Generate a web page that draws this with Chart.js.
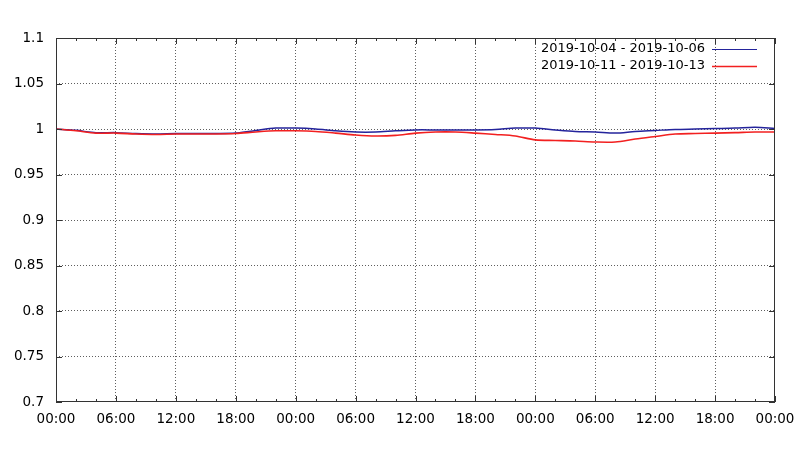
<!DOCTYPE html>
<html>
<head>
<meta charset="utf-8">
<script src="https://cdn.jsdelivr.net/npm/chart.js@4"></script>
<style>
  html, body { margin: 0; padding: 0; background: #fff; }
  #wrap { width: 800px; height: 450px; }
</style>
</head>
<body>
<div id="wrap"><canvas id="c" width="800" height="450"></canvas></div>
<script>
// ── Data (hours since start) ───────────────────────────────────
const HOURS = [0, 2, 4, 6, 8, 10, 12, 14, 16, 18, 20, 22, 24, 26, 28, 30, 32, 34, 36,
  38, 40, 42, 44, 46, 48, 50, 52, 54, 56, 58, 60, 62, 64, 66, 68, 70, 72];
const WEEK1 = [1.000, 0.9985, 0.996, 0.996, 0.995, 0.9945, 0.995, 0.995, 0.995, 0.9955,
  0.9984, 1.001, 1.001, 1.000, 0.998, 0.9967, 0.9967, 0.998, 0.999,
  0.999, 0.999, 0.999, 0.9995, 1.001, 1.001, 0.999, 0.9973, 0.9967, 0.9955, 0.9973,
  0.9984, 0.9995, 1.000, 1.0005, 1.001, 1.002, 1.0005];
const WEEK2 = [1.000, 0.998, 0.9955, 0.9955, 0.9945, 0.994, 0.9945, 0.9945, 0.9945, 0.995,
  0.9967, 0.998, 0.998, 0.9973, 0.9955, 0.9934, 0.9923, 0.993, 0.9955,
  0.9967, 0.9967, 0.9955, 0.994, 0.9923, 0.988, 0.9874, 0.9868, 0.9857, 0.9857, 0.989,
  0.9918, 0.9945, 0.995, 0.9955, 0.996, 0.9967, 0.9967];
const LABELS = ['2019-10-04 - 2019-10-06', '2019-10-11 - 2019-10-13'];
const COLORS = ['#24249c', '#f22020'];

const FONT = { family: 'DejaVu Sans', size: 13.5 };
const GRID = '#5e5e5e';

function pts(vals) { return HOURS.map(function (h, i) { return { x: h, y: vals[i] }; }); }
function hh(v) { var h = ((v % 24) + 24) % 24; return (h < 10 ? '0' : '') + h + ':00'; }

// ── gnuplot-like frame, inner ticks and legend ────────────────
const framePlugin = {
  id: 'frame',
  afterDraw: function (chart) {
    var ctx = chart.ctx, a = chart.chartArea;
    var xs = chart.scales.x, ys = chart.scales.y;
    ctx.save();
    ctx.strokeStyle = '#333';
    ctx.lineWidth = 1;
    ctx.strokeRect(a.left + 0.5, a.top + 0.5, a.right - a.left - 1, a.bottom - a.top - 1);
    ctx.beginPath();
    xs.ticks.forEach(function (t) {
      var px = Math.round(xs.getPixelForValue(t.value)) + 0.5;
      var len = t.value % 6 === 0 ? 6 : 3;
      ctx.moveTo(px, a.bottom); ctx.lineTo(px, a.bottom - len);
      ctx.moveTo(px, a.top); ctx.lineTo(px, a.top + len);
    });
    ys.ticks.forEach(function (t) {
      var py = Math.round(ys.getPixelForValue(t.value)) + 0.5;
      ctx.moveTo(a.left, py); ctx.lineTo(a.left + 6, py);
      ctx.moveTo(a.right, py); ctx.lineTo(a.right - 6, py);
    });
    ctx.stroke();

    // legend, top right inside plot
    ctx.font = '13px "DejaVu Sans"';
    ctx.textAlign = 'right';
    ctx.textBaseline = 'middle';
    chart.data.datasets.forEach(function (ds, i) {
      var y = a.top + 11 + i * 17;
      ctx.fillStyle = '#000';
      ctx.fillText(ds.label, a.right - 70, y);
      ctx.strokeStyle = ds.borderColor;
      ctx.lineWidth = i === 0 ? 1 : 1.6;
      ctx.beginPath();
      ctx.moveTo(a.right - 63, Math.round(y) + 0.5);
      ctx.lineTo(a.right - 18, Math.round(y) + 0.5);
      ctx.stroke();
    });
    ctx.restore();
  }
};

new Chart(document.getElementById('c'), {
  type: 'line',
  data: {
    datasets: [
      { label: LABELS[0], data: pts(WEEK1), borderColor: COLORS[0], borderWidth: 1.5,
        pointRadius: 0, tension: 0.3, order: 1 },
      { label: LABELS[1], data: pts(WEEK2), borderColor: COLORS[1], borderWidth: 1.6,
        pointRadius: 0, tension: 0.3, order: 0 }
    ]
  },
  options: {
    responsive: false,
    animation: false,
    layout: { padding: { top: 38, right: 25, left: 0, bottom: 0 } },
    plugins: { legend: { display: false }, tooltip: { enabled: false } },
    scales: {
      x: {
        type: 'linear', min: 0, max: 72,
        afterFit: function (s) { s.height = 48; s.paddingLeft = 0; s.paddingRight = 0; },
        ticks: {
          stepSize: 2, autoSkip: false, maxRotation: 0, padding: 9,
          color: '#000', font: FONT,
          callback: function (v) { return v % 6 === 0 ? hh(v) : ''; }
        },
        grid: {
          drawTicks: false,
          color: function (c) {
            var v = c.tick ? c.tick.value : 0;
            return (v % 6 === 0 && v > 0 && v < 72) ? GRID : 'rgba(0,0,0,0)';
          }
        },
        border: { display: false, dash: [1, 2] }
      },
      y: {
        min: 0.7, max: 1.1,
        afterFit: function (s) { s.width = 56; s.paddingTop = 0; s.paddingBottom = 0; },
        ticks: {
          stepSize: 0.05, padding: 12, color: '#000', font: FONT,
          callback: function (v) { return String(Number(v.toFixed(2))); }
        },
        grid: {
          drawTicks: false,
          color: function (c) {
            var v = c.tick ? c.tick.value : 0;
            return (v > 0.71 && v < 1.09) ? GRID : 'rgba(0,0,0,0)';
          }
        },
        border: { display: false, dash: [1, 2] }
      }
    }
  },
  plugins: [framePlugin]
});
</script>
</body>
</html>
